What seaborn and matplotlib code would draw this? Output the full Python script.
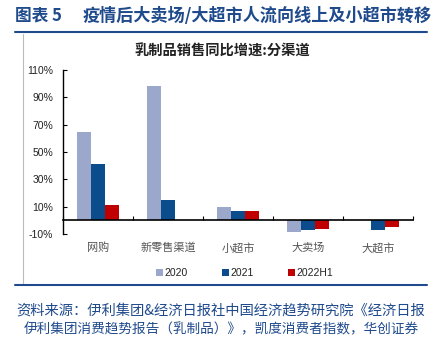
import matplotlib
matplotlib.use("Agg")
import matplotlib.pyplot as plt
import seaborn as sns
import numpy as np
import pandas as pd
from matplotlib.patches import Patch
from matplotlib.lines import Line2D

categories = ["网购", "新零售渠道", "小超市", "大卖场", "大超市"]
series_names = ["2020", "2021", "2022H1"]
v2020 = [65, 98, 9.5, -8.7, np.nan]
v2021 = [41, 15, 7, -6.8, -6.8]
v2022h1 = [11, np.nan, 7, -6.5, -4.6]
ytick_vals = [-10, 10, 30, 50, 70, 90, 110]
ytick_labels = ["-10%", "10%", "30%", "50%", "70%", "90%", "110%"]
colors = ["#9BA7CB", "#0A4C8C", "#C00000"]

title_main = "图表 5"
title_rest = "疫情后大卖场/大超市人流向线上及小超市转移"
chart_title = "乳制品销售同比增速:分渠道"
source1 = "资料来源：伊利集团&经济日报社中国经济趋势研究院《经济日报"
source2 = "伊利集团消费趋势报告（乳制品）》，凯度消费者指数，华创证券"

rows = []
for name, vals in zip(series_names, [v2020, v2021, v2022h1]):
    for c, v in zip(categories, vals):
        rows.append({"渠道": c, "年份": name, "增速": v})
df = pd.DataFrame(rows)

sns.set_theme(style="white")
plt.rcParams["font.family"] = ["Noto Sans CJK SC", "DejaVu Sans"]

W, H = 439, 337
fig = plt.figure(figsize=(W / 100, H / 100), dpi=100)
fig.patch.set_facecolor("white")

def fx(px):
    return px / W

def fy(py):
    return 1 - py / H

ax = fig.add_axes([fx(63), fy(234), fx(413) - fx(63), fy(70) - fy(234)])
sns.barplot(data=df, x="渠道", y="增速", hue="年份", order=categories,
            hue_order=series_names, palette=colors, width=0.59, gap=0,
            saturation=1, ax=ax, legend=False, errorbar=None)
for p in ax.patches:
    p.set_edgecolor("none")

ax.set_ylim(-10, 110)
ax.set_xlim(-0.5, len(categories) - 0.5)
ax.set_xlabel("")
ax.set_ylabel("")
ax.set_yticks(ytick_vals)
ax.set_yticklabels(ytick_labels, family=["Liberation Sans", "DejaVu Sans"], fontsize=7.5, color="#222222")
ax.tick_params(axis="y", direction="in", length=3, width=0.8, color="black", pad=7, left=True)

for s in ["top", "right"]:
    ax.spines[s].set_visible(False)
ax.spines["left"].set_color("black")
ax.spines["left"].set_linewidth(1.0)
ax.spines["bottom"].set_position(("data", 0))
ax.spines["bottom"].set_color("black")
ax.spines["bottom"].set_linewidth(1.2)
ax.set_xticks(np.arange(-0.5, len(categories), 1.0), minor=True)
ax.tick_params(axis="x", which="minor", direction="in", length=3, width=0.8, color="black", bottom=True)
ax.tick_params(axis="x", which="major", length=0, pad=16, labelsize=8, labelcolor="#555555")
ax.grid(False)

# legend
handles = [Patch(facecolor=c, edgecolor="none", label=n) for c, n in zip(colors, series_names)]
fig.legend(handles=handles, loc="center", bbox_to_anchor=(fx(245), fy(273)), ncol=3,
           frameon=False, handlelength=0.6, handleheight=0.6, handletextpad=0.2,
           columnspacing=3.3, prop={"family": ["Liberation Sans", "DejaVu Sans"], "size": 7.5},
           labelcolor="#222222")

blue = "#1F4A8C"
fig.text(fx(15), fy(16), title_main, fontsize=12, fontweight="bold", color=blue, va="center", ha="left")
fig.text(fx(83), fy(16), title_rest, fontsize=12.3, fontweight="bold", color=blue, va="center", ha="left")
fig.add_artist(Line2D([fx(15), fx(427)], [fy(32), fy(32)], color=blue, lw=1.5))
fig.add_artist(Line2D([fx(23), fx(23)], [fy(34), fy(283)], color="#BBBBBB", lw=0.8))
fig.text(fx(222), fy(52), chart_title, fontsize=10.3, fontweight="bold", color="#222222", va="center", ha="center")
fig.add_artist(Line2D([fx(15), fx(427)], [fy(285), fy(285)], color=blue, lw=1.5))
fig.text(fx(221), fy(311), source1, fontsize=10.3, style="italic", color=blue, va="center", ha="center")
fig.text(fx(221), fy(329), source2, fontsize=9.8, style="italic", color=blue, va="center", ha="center")

fig.savefig("out.png", dpi=100, facecolor="white")
